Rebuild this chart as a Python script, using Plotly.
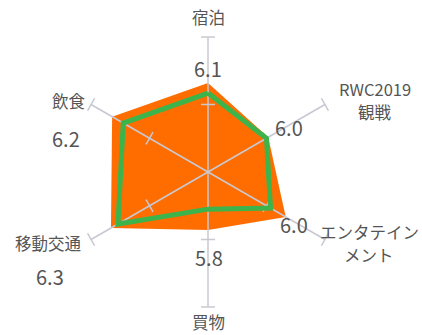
import plotly.graph_objects as go

categories = ["宿泊", "RWC2019<br>観戦", "エンタテイン<br>メント", "買物", "移動交通", "飲食"]
orange_values = [6.32, 6.03, 6.33, 5.86, 6.66, 6.64]
green_values = [6.17, 6.00, 6.07, 5.55, 6.54, 6.45]
value_labels = ["6.1", "6.0", "6.0", "5.8", "6.3", "6.2"]
r_min, r_max, r_mid = 5.0, 7.0, 6.0

W, H = 422, 335
ORANGE = "#FF6D00"
GREEN = "#3CB44B"
GRID = "#C8C8D2"
TEXT = "#555555"
FONT = "Noto Sans CJK JP"

n = len(categories)
fig = go.Figure()

# orange filled area
fig.add_trace(go.Scatterpolar(
    r=orange_values + orange_values[:1], theta=categories + categories[:1],
    mode="lines", fill="toself", fillcolor=ORANGE,
    line=dict(color=ORANGE, width=0), hoverinfo="skip"))

# spokes with ticks (drawn between the two series)
sr, st = [], []
for c in categories:
    sr += [r_min, r_max, None]
    st += [c, c, None]
fig.add_trace(go.Scatterpolar(r=sr, theta=st, mode="lines",
                              line=dict(color=GRID, width=1.5), hoverinfo="skip"))
tr, tt, ta = [], [], []
for i, c in enumerate(categories):
    for rv in (r_mid, r_max):
        tr.append(rv); tt.append(c); ta.append(360 / n * i)
fig.add_trace(go.Scatterpolar(r=tr, theta=tt, mode="markers",
                              marker=dict(symbol="line-ew", size=10, angle=ta,
                                          line=dict(color=GRID, width=1.5)),
                              hoverinfo="skip"))

# green line
fig.add_trace(go.Scatterpolar(
    r=green_values + green_values[:1], theta=categories + categories[:1],
    mode="lines", line=dict(color=GREEN, width=5), hoverinfo="skip"))

cx, cy, R = 208, 172, 135
fig.update_layout(
    width=W, height=H, margin=dict(l=0, r=0, t=0, b=0),
    paper_bgcolor="white", plot_bgcolor="white", showlegend=False,
    polar=dict(
        domain=dict(x=[(cx - R) / W, (cx + R) / W], y=[1 - (cy + R) / H, 1 - (cy - R) / H]),
        bgcolor="rgba(0,0,0,0)",
        radialaxis=dict(range=[r_min, r_max], showgrid=False, showline=False,
                        showticklabels=False, ticks=""),
        angularaxis=dict(rotation=90, direction="clockwise", showgrid=False,
                         showline=False, showticklabels=False, ticks="",
                         categoryarray=categories, categoryorder="array"),
    ),
)

cat_pos = [(208, 17), (375, 100), (369, 243), (208, 322), (48, 243), (68, 101)]
val_pos = [(208, 68), (289, 128), (294, 224), (209, 257), (50, 276), (66, 138)]
line_gap = 23
for c, (x, y) in zip(categories, cat_pos):
    lines = c.split("<br>")
    y0 = y - line_gap * (len(lines) - 1) / 2
    for k, ln in enumerate(lines):
        yy = y0 + k * line_gap
        fig.add_annotation(x=x / W, y=1 - yy / H, xref="paper", yref="paper", text=ln,
                           showarrow=False, font=dict(family=FONT, size=16.5, color=TEXT),
                           xanchor="center", yanchor="middle", borderpad=0)
for v, (x, y) in zip(value_labels, val_pos):
    fig.add_annotation(x=x / W, y=1 - y / H, xref="paper", yref="paper", text=v,
                       showarrow=False, font=dict(family=FONT, size=20, color=TEXT),
                       xanchor="center", yanchor="middle")

fig.write_html("out.html", config={"displayModeBar": False},
               post_script="document.body.style.margin='0';document.body.style.padding='0';")
